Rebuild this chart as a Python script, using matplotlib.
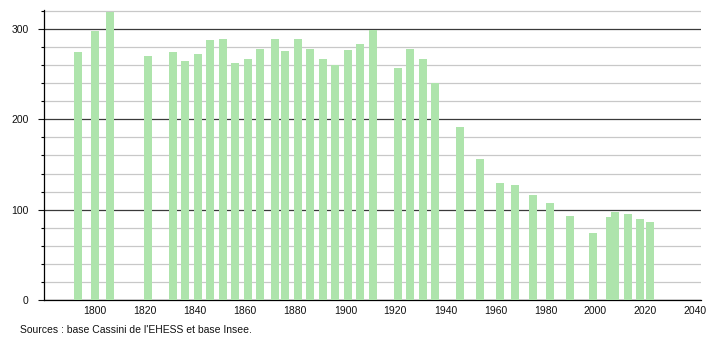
import matplotlib.pyplot as plt
from matplotlib.ticker import MultipleLocator

years = [1793, 1800, 1806, 1821, 1831, 1836, 1841, 1846, 1851, 1856,
         1861, 1866, 1872, 1876, 1881, 1886, 1891, 1896, 1901, 1906,
         1911, 1921, 1926, 1931, 1936, 1946, 1954, 1962, 1968, 1975,
         1982, 1990, 1999, 2006, 2008, 2013, 2018, 2022]
population = [274, 298, 319, 270, 274, 264, 272, 288, 289, 262,
              267, 278, 289, 276, 289, 278, 267, 260, 277, 283,
              299, 257, 278, 267, 240, 191, 156, 129, 127, 116,
              107, 93, 74, 92, 97, 95, 90, 86]
x_ticks = [1800, 1820, 1840, 1860, 1880, 1900, 1920, 1940, 1960, 1980, 2000, 2020, 2040]
source = "Sources : base Cassini de l'EHESS et base Insee."

plt.rcParams['font.family'] = ['Liberation Sans', 'DejaVu Sans']

fig = plt.figure(figsize=(7.1, 3.4), dpi=100)
ax = fig.add_axes([44 / 710, 40 / 340, 657 / 710, 290 / 340])

ax.bar(years, population, width=3.2, color='#aee4ac', zorder=3)

ax.set_xlim(1779.5, 2042.2)
ax.set_ylim(0, 321)

# grid: light every 20, dark every 100
ax.yaxis.set_major_locator(MultipleLocator(100))
ax.yaxis.set_minor_locator(MultipleLocator(20))
ax.grid(which='minor', axis='y', color='#c8c8c8', lw=0.9, zorder=1)
ax.grid(which='major', axis='y', color='#3a3a3a', lw=0.9, zorder=2)
ax.grid(axis='x', visible=False)

ax.set_xticks(x_ticks)
ax.tick_params(axis='x', length=0, labelsize=7.5, pad=4, colors='#111111')
ax.tick_params(axis='y', which='major', length=4, width=0.8, labelsize=7.5, pad=7, colors='#111111')
ax.tick_params(axis='y', which='minor', length=2, width=0.8)

for s in ['top', 'right']:
    ax.spines[s].set_visible(False)
for s in ['left', 'bottom']:
    ax.spines[s].set_color('black')
    ax.spines[s].set_linewidth(0.9)

fig.text(20 / 710, 1 - 330 / 340, source, fontsize=7.5, va='center', ha='left', color='#111111')

fig.savefig('out.png', dpi=100)
